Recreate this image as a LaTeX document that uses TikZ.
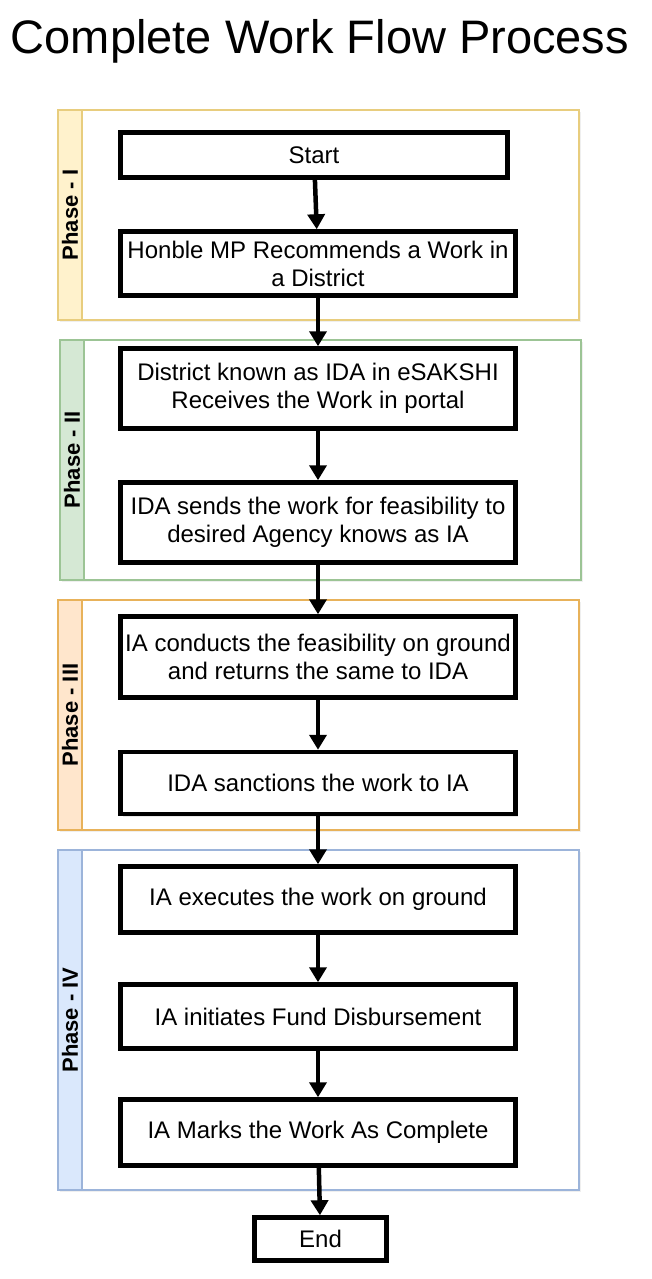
\documentclass[tikz,border=0pt]{standalone}
\usepackage{fontspec}
\setmainfont{Liberation Sans}
\usetikzlibrary{arrows.meta,shadows}
\definecolor{phaseIfill}{HTML}{FFF2CC}
\definecolor{phaseIline}{HTML}{E8CD7E}
\definecolor{phaseIIfill}{HTML}{D5E8D4}
\definecolor{phaseIIline}{HTML}{9CC495}
\definecolor{phaseIIIfill}{HTML}{FFE6CC}
\definecolor{phaseIIIline}{HTML}{E8B25A}
\definecolor{phaseIVfill}{HTML}{DAE8FC}
\definecolor{phaseIVline}{HTML}{9CB4DA}
\tikzset{
  stepbox/.style={draw=black,line width=4.5pt,fill=white,minimum width=395pt,
    align=center,inner sep=2pt,font=\fontsize{24}{28}\selectfont,
    drop shadow={opacity=0.18,shadow xshift=2.5pt,shadow yshift=-2.5pt}},
  flowarrow/.style={line width=4.5pt,-{Triangle[length=15pt,width=17pt]}},
  phaseframe/.style={line width=1.2pt,
    drop shadow={opacity=0.12,shadow xshift=2pt,shadow yshift=-2pt}},
  phaselabel/.style={rotate=90,font=\bfseries\fontsize{22}{26}\selectfont}
}
\begin{document}
\begin{tikzpicture}[x=1pt,y=-1pt]
  \useasboundingbox (0,0) rectangle (651,1279);
  \fill[white] (0,0) rectangle (651,1279);
  \node[anchor=base,font=\fontsize{47}{56}\selectfont] (title) at (320,54) {Complete Work Flow Process};

  \draw[phaseframe,draw=phaseIline,fill=white] (58,110) rectangle (579,320);
  \draw[line width=1.2pt,draw=phaseIline,fill=phaseIfill] (58,110) rectangle (82,320);
  \node[phaselabel] (phaseI) at (70,215) {Phase - I};

  \draw[phaseframe,draw=phaseIIline,fill=white] (60,340) rectangle (581,580);
  \draw[line width=1.2pt,draw=phaseIIline,fill=phaseIIfill] (60,340) rectangle (84,580);
  \node[phaselabel] (phaseII) at (72,460) {Phase - II};

  \draw[phaseframe,draw=phaseIIIline,fill=white] (58,600) rectangle (579,830);
  \draw[line width=1.2pt,draw=phaseIIIline,fill=phaseIIIfill] (58,600) rectangle (82,830);
  \node[phaselabel] (phaseIII) at (70,715) {Phase - III};

  \draw[phaseframe,draw=phaseIVline,fill=white] (58,850) rectangle (579,1190);
  \draw[line width=1.2pt,draw=phaseIVline,fill=phaseIVfill] (58,850) rectangle (82,1190);
  \node[phaselabel] (phaseIV) at (70,1020) {Phase - IV};

  \node[stepbox,minimum width=387pt,minimum height=45pt] (start) at (314,155) {Start};
  \node[stepbox,minimum height=64pt] (recommend) at (318,263.5) {Honble MP Recommends a Work in\\a District};
  \node[stepbox,minimum height=80pt] (receive) at (318,388.5) {District known as IDA in eSAKSHI\\Receives the Work in portal};
  \node[stepbox,minimum height=80pt] (feasible) at (318,522.5) {IDA sends the work for feasibility to\\desired Agency knows as IA};
  \node[stepbox,minimum height=81pt] (conduct) at (318,657) {IA conducts the feasibility on ground\\and returns the same to IDA};
  \node[stepbox,minimum height=62pt] (sanction) at (318,783) {IDA sanctions the work to IA};
  \node[stepbox,minimum height=66pt] (execute) at (318,899.5) {IA executes the work on ground};
  \node[stepbox,minimum height=64pt] (disburse) at (318,1016.5) {IA initiates Fund Disbursement};
  \node[stepbox,minimum height=66pt] (complete) at (318,1132.5) {IA Marks the Work As Complete};
  \node[stepbox,minimum width=132pt,minimum height=43pt] (end) at (320.5,1239) {End};

  \draw[flowarrow] (start) -- (recommend);
  \draw[flowarrow] (recommend) -- (receive);
  \draw[flowarrow] (receive) -- (feasible);
  \draw[flowarrow] (feasible) -- (conduct);
  \draw[flowarrow] (conduct) -- (sanction);
  \draw[flowarrow] (sanction) -- (execute);
  \draw[flowarrow] (execute) -- (disburse);
  \draw[flowarrow] (disburse) -- (complete);
  \draw[flowarrow] (complete) -- (end);
\end{tikzpicture}
\end{document}
